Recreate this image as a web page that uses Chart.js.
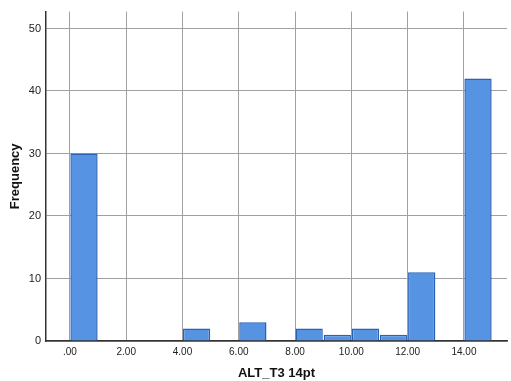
<!DOCTYPE html>
<html>
<head>
<meta charset="utf-8">
<script src="https://cdn.jsdelivr.net/npm/chart.js@4"></script>
<style>
  html, body { margin: 0; padding: 0; background: #fff; }
  #wrap { width: 511px; height: 381px; }
</style>
</head>
<body>
<div id="wrap"><canvas id="hist"></canvas></div>
<script>
// histogram bins (left edge, width 1) and counts
var binStart = [0, 1, 2, 3, 4, 5, 6, 7, 8, 9, 10, 11, 12, 13, 14];
var counts   = [30, 0, 0, 0, 2, 0, 3, 0, 2, 1, 2, 1, 11, 0, 42];
var xTicks = [0, 2, 4, 6, 8, 10, 12, 14];
var yTicks = [0, 10, 20, 30, 40, 50];

var pts = binStart.map(function (b, i) { return { x: b + 0.5, y: counts[i] }; });

new Chart("hist", {
  type: "bar",
  data: {
    datasets: [{
      data: pts,
      backgroundColor: "#5693e3",
      borderColor: "#2a62b5",
      borderWidth: 1.5,
      borderSkipped: "bottom",
      barPercentage: 0.97,
      categoryPercentage: 1
    }]
  },
  options: {
    responsive: true,
    maintainAspectRatio: false,
    animation: false,
    layout: { padding: { top: 10, right: 4, left: 0, bottom: 0 } },
    plugins: { legend: { display: false }, tooltip: { enabled: false } },
    scales: {
      x: {
        type: "linear",
        offset: false,
        min: -0.85,
        max: 15.53,
        afterBuildTicks: function (ax) { ax.ticks = xTicks.map(function (v) { return { value: v }; }); },
        afterFit: function (ax) { ax.height = 40; },
        grid: { color: "#a0a0a0", lineWidth: 1, drawTicks: false, offset: false },
        border: { color: "#333", width: 1.5 },
        ticks: {
          padding: 5,
          color: "#222",
          font: { family: "Liberation Sans", size: 10 },
          callback: function (v) { return v === 0 ? ".00" : v.toFixed(2); }
        },
        title: {
          display: true,
          text: "ALT_T3 14pt",
          color: "#111",
          padding: { top: 8, bottom: 0 },
          font: { family: "Liberation Sans", size: 13, weight: "bold" }
        }
      },
      y: {
        min: 0,
        max: 52.7,
        afterBuildTicks: function (ax) { ax.ticks = yTicks.map(function (v) { return { value: v }; }); },
        afterFit: function (ax) { ax.width = 46; },
        grid: { color: "#a0a0a0", lineWidth: 1, drawTicks: false },
        border: { color: "#333", width: 1.5 },
        ticks: {
          padding: 5,
          color: "#222",
          font: { family: "Liberation Sans", size: 11 }
        },
        title: {
          display: true,
          text: "Frequency",
          color: "#111",
          padding: { top: 8, bottom: 0 },
          font: { family: "Liberation Sans", size: 13, weight: "bold" }
        }
      }
    }
  }
});
</script>
</body>
</html>
